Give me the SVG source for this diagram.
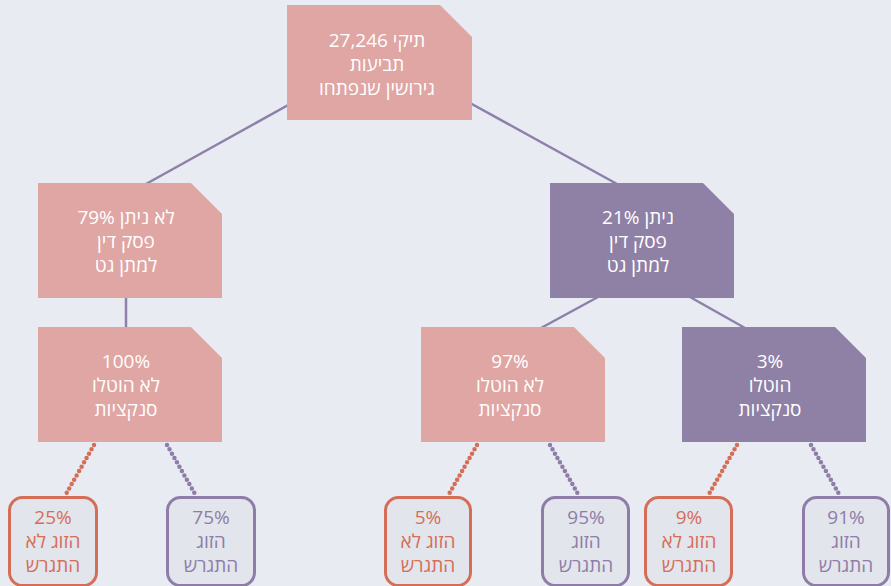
<svg xmlns="http://www.w3.org/2000/svg" width="891" height="586" viewBox="0 0 891 586">
<style>
  text { font-family: "Open Sans", "Liberation Sans", "DejaVu Sans", sans-serif; font-size: 19px; text-anchor: middle; direction: ltr; }
  .pink { fill: #DFA6A4; }
  .purp { fill: #8F81A6; }
  .nt { fill: #FFFFFF; }
  .leafO { fill: #E2E5EC; stroke: #D56E57; stroke-width: 3; }
  .leafP { fill: #E2E5EC; stroke: #8E7DA8; stroke-width: 3; }
  .to { fill: #D56E57; }
  .tp { fill: #8E7DA8; }
  .solid { stroke: #8E80AA; stroke-width: 2.5; fill: none; }
  .dotO { stroke: #D56E57; stroke-width: 4.5; stroke-linecap: round; stroke-dasharray: 0 5; fill: none; }
  .dotP { stroke: #8E7DA8; stroke-width: 4.5; stroke-linecap: round; stroke-dasharray: 0 5; fill: none; }
</style>
<rect x="0" y="0" width="891" height="586" fill="#E8EBF2"/>
<g id="connectors">
  <line class="solid" x1="290" y1="104" x2="146" y2="184"/>
  <line class="solid" x1="470" y1="103" x2="617" y2="184"/>
  <line class="solid" x1="126" y1="297" x2="126" y2="328"/>
  <line class="solid" x1="598" y1="297" x2="541" y2="328"/>
  <line class="solid" x1="690" y1="297" x2="745" y2="328"/>
  <line class="dotO" x1="94" y1="445" x2="66" y2="494"/>
  <line class="dotP" x1="167" y1="445" x2="195" y2="494"/>
  <line class="dotO" x1="477" y1="445" x2="449" y2="494"/>
  <line class="dotP" x1="550" y1="445" x2="578" y2="494"/>
  <line class="dotO" x1="737" y1="445" x2="709" y2="494"/>
  <line class="dotP" x1="811" y1="445" x2="839" y2="494"/>
</g>
<g id="root">
  <polygon class="pink" points="287,5 440,5 472,37 472,120 287,120"/>
  <text class="nt" x="377" y="47">27,246 תיקי</text>
  <text class="nt" x="377" y="71">תביעות</text>
  <text class="nt" x="377" y="95">גירושין שנפתחו</text>
</g>
<g id="no-ruling">
  <polygon class="pink" points="38,183 191,183 222,214 222,298 38,298"/>
  <text class="nt" x="126" y="224">79% לא ניתן</text>
  <text class="nt" x="126" y="248">פסק דין</text>
  <text class="nt" x="126" y="272">למתן גט</text>
</g>
<g id="ruling">
  <polygon class="purp" points="550,183 703,183 734,214 734,298 550,298"/>
  <text class="nt" x="638" y="224">21% ניתן</text>
  <text class="nt" x="638" y="248">פסק דין</text>
  <text class="nt" x="638" y="272">למתן גט</text>
</g>
<g id="no-sanctions-a">
  <polygon class="pink" points="38,327 191,327 222,358 222,442 38,442"/>
  <text class="nt" x="126" y="368">100%</text>
  <text class="nt" x="126" y="392">לא הוטלו</text>
  <text class="nt" x="126" y="416">סנקציות</text>
</g>
<g id="no-sanctions-b">
  <polygon class="pink" points="421,327 574,327 605,358 605,442 421,442"/>
  <text class="nt" x="510" y="368">97%</text>
  <text class="nt" x="510" y="392">לא הוטלו</text>
  <text class="nt" x="510" y="416">סנקציות</text>
</g>
<g id="sanctions">
  <polygon class="purp" points="682,327 835,327 866,358 866,442 682,442"/>
  <text class="nt" x="770" y="368">3%</text>
  <text class="nt" x="770" y="392">הוטלו</text>
  <text class="nt" x="770" y="416">סנקציות</text>
</g>
<g id="leaf-1">
  <rect class="leafO" x="9.5" y="497.5" width="87" height="88" rx="13"/>
  <text class="to" x="53" y="524">25%</text>
  <text class="to" x="53" y="548">הזוג לא</text>
  <text class="to" x="53" y="572">התגרש</text>
</g>
<g id="leaf-2">
  <rect class="leafP" x="167.5" y="497.5" width="87" height="88" rx="13"/>
  <text class="tp" x="211" y="524">75%</text>
  <text class="tp" x="211" y="548">הזוג</text>
  <text class="tp" x="211" y="572">התגרש</text>
</g>
<g id="leaf-3">
  <rect class="leafO" x="385.5" y="497.5" width="85" height="88" rx="13"/>
  <text class="to" x="428" y="524">5%</text>
  <text class="to" x="428" y="548">הזוג לא</text>
  <text class="to" x="428" y="572">התגרש</text>
</g>
<g id="leaf-4">
  <rect class="leafP" x="542.5" y="497.5" width="86" height="88" rx="13"/>
  <text class="tp" x="586" y="524">95%</text>
  <text class="tp" x="586" y="548">הזוג</text>
  <text class="tp" x="586" y="572">התגרש</text>
</g>
<g id="leaf-5">
  <rect class="leafO" x="645.5" y="497.5" width="86" height="88" rx="13"/>
  <text class="to" x="689" y="524">9%</text>
  <text class="to" x="689" y="548">הזוג לא</text>
  <text class="to" x="689" y="572">התגרש</text>
</g>
<g id="leaf-6">
  <rect class="leafP" x="803.5" y="497.5" width="85" height="88" rx="13"/>
  <text class="tp" x="846" y="524">91%</text>
  <text class="tp" x="846" y="548">הזוג</text>
  <text class="tp" x="846" y="572">התגרש</text>
</g>
</svg>
